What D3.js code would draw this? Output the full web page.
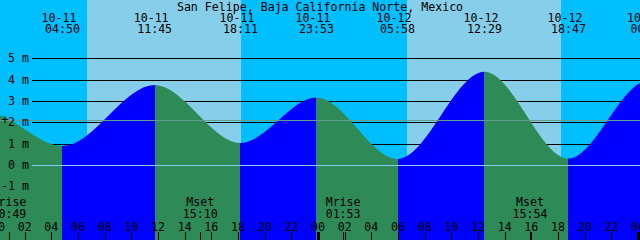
<!DOCTYPE html>
<html>
<head>
<meta charset="utf-8">
<script src="https://cdn.jsdelivr.net/npm/d3@7"></script>
<style>
body { margin: 0; background: #fff; }
text { font-family: "DejaVu Sans Mono", monospace; font-size: 11.6px; fill: #000; }
</style>
</head>
<body>
<script>
// tide extremes (first and last ones lie outside the window)
var tideDates = ["10-10", "10-10", "10-11", "10-11", "10-11", "10-11", "10-12", "10-12", "10-12", "10-13", "10-13"];
var tideTimes = ["16:50", "23:12", "04:50", "11:45", "18:11", "23:53", "05:58", "12:29", "18:47", "00:45", "07:10"];
var tideLevels = [0.9, 2.45, 0.89, 3.75, 1.03, 3.16, 0.28, 4.37, 0.3, 3.95, 0.2];

var sunDates = ["10-11", "10-12"];
var sunrise = ["06:41", "06:41"];
var sunset = ["18:14", "18:14"];

var moonNames = ["Mrise", "Mset", "Mrise", "Mset"];
var moonDates = ["10-11", "10-11", "10-12", "10-12"];
var moonTimes = ["00:49", "15:10", "01:53", "15:54"];

var levelTicks = [-1, 0, 1, 2, 3, 4, 5];
var hourTicks = d3.range(0, 49, 2);
var meanLevel = 2.11;
var title = "San Felipe, Baja California Norte, Mexico";

var width = 640;
var height = 240;

// hours since 10-11 00:00
function hrs(date, time) {
    var day = +date.split("-")[1] - 11;
    var p = time.split(":");
    return day * 24 + (+p[0]) + (+p[1]) / 60;
}

var x = d3.scaleLinear().domain([0, 48]).range([-2, 638]);
var y = d3.scaleLinear().domain([0, 5]).range([165, 58.3]);

function px(h) {
    return Math.round(x(h));
}

var tide = tideTimes.map(function(t, i) {
    return { h: hrs(tideDates[i], t), v: tideLevels[i], date: tideDates[i], time: t };
});

var svg = d3.select("body")
        .append("svg")
        .attr("width", width)
        .attr("height", height)
        .attr("shape-rendering", "crispEdges");

// night background, then day bands
svg.append("rect")
        .attr("width", width)
        .attr("height", height)
        .attr("fill", "#00bfff");

svg.selectAll(".day")
        .data(sunDates)
        .enter()
        .append("rect")
        .attr("x", function(d, i) { return px(hrs(d, sunrise[i])); })
        .attr("width", function(d, i) { return px(hrs(d, sunset[i])) - px(hrs(d, sunrise[i])); })
        .attr("y", 0)
        .attr("height", height)
        .attr("fill", "#87ceeb");

// level grid lines (behind the water)
svg.selectAll(".grid")
        .data(levelTicks.filter(function(d) { return d != 0; }))
        .enter()
        .append("line")
        .attr("x1", 32)
        .attr("x2", width)
        .attr("y1", function(d) { return Math.round(y(d)) + 0.5; })
        .attr("y2", function(d) { return Math.round(y(d)) + 0.5; })
        .attr("stroke", "#000")
        .attr("stroke-width", 1);

// water area, coloured by rising / falling
var area = d3.area()
        .x(function(d) { return x(d.h); })
        .y0(height)
        .y1(function(d) { return y(d.v); })
        .curve(d3.curveMonotoneX);

svg.append("clipPath")
        .attr("id", "water")
        .append("path")
        .attr("d", area(tide));

var segs = d3.pairs(tide);

svg.append("g")
        .attr("clip-path", "url(#water)")
        .selectAll("rect")
        .data(segs)
        .enter()
        .append("rect")
        .attr("x", function(d) { return px(d[0].h); })
        .attr("width", function(d) { return px(d[1].h) - px(d[0].h); })
        .attr("y", 0)
        .attr("height", height)
        .attr("fill", function(d) {
            return d[1].v > d[0].v ? "#0000ff" : "#2e8b57";
        });

// datum and mean level lines on top
svg.append("line")
        .attr("x1", 32)
        .attr("x2", width)
        .attr("y1", Math.round(y(0)) + 0.5)
        .attr("y2", Math.round(y(0)) + 0.5)
        .attr("stroke", "#87ceeb");

svg.append("line")
        .attr("x1", 0)
        .attr("x2", width)
        .attr("y1", Math.round(y(meanLevel)) + 0.5)
        .attr("y2", Math.round(y(meanLevel)) + 0.5)
        .attr("stroke", "#5f9f8f");

svg.append("text")
        .attr("x", 5)
        .attr("y", y(meanLevel) + 4)
        .attr("text-anchor", "middle")
        .text("+");

// level labels
svg.selectAll(".lvl")
        .data(levelTicks)
        .enter()
        .append("text")
        .attr("x", 29)
        .attr("y", function(d) { return y(d) + 4; })
        .attr("text-anchor", "end")
        .text(function(d) { return d + " m"; });

// title and tide labels
svg.append("text")
        .attr("x", 320)
        .attr("y", 10.5)
        .attr("text-anchor", "middle")
        .text(title);

var shown = tide.filter(function(d) { return d.h >= 0 && d.h <= 49; });

svg.selectAll(".tdate")
        .data(shown)
        .enter()
        .append("text")
        .attr("x", function(d) { return x(d.h) - 3.5; })
        .attr("y", 21.5)
        .attr("text-anchor", "middle")
        .text(function(d) { return d.date; });

svg.selectAll(".ttime")
        .data(shown)
        .enter()
        .append("text")
        .attr("x", function(d) { return x(d.h); })
        .attr("y", 33)
        .attr("text-anchor", "middle")
        .text(function(d) { return d.time; });

// moon labels
svg.selectAll(".mname")
        .data(moonNames)
        .enter()
        .append("text")
        .attr("x", function(d, i) { return x(hrs(moonDates[i], moonTimes[i])); })
        .attr("y", 206)
        .attr("text-anchor", "middle")
        .text(function(d) { return d; });

svg.selectAll(".mtime")
        .data(moonTimes)
        .enter()
        .append("text")
        .attr("x", function(d, i) { return x(hrs(moonDates[i], d)); })
        .attr("y", 217.5)
        .attr("text-anchor", "middle")
        .text(function(d) { return d; });

svg.selectAll(".mtick")
        .data(moonTimes)
        .enter()
        .append("line")
        .attr("x1", function(d, i) { return px(hrs(moonDates[i], d)) + 0.5; })
        .attr("x2", function(d, i) { return px(hrs(moonDates[i], d)) + 0.5; })
        .attr("y1", 232)
        .attr("y2", height)
        .attr("stroke", "#000");

// hour axis
svg.selectAll(".hlab")
        .data(hourTicks)
        .enter()
        .append("text")
        .attr("x", function(d) { return x(d); })
        .attr("y", 230.5)
        .attr("text-anchor", "middle")
        .text(function(d) { return d3.format("02")(d % 24); });

svg.selectAll(".htick")
        .data(hourTicks)
        .enter()
        .append("line")
        .attr("x1", function(d) { return px(d) + 0.5; })
        .attr("x2", function(d) { return px(d) + 0.5; })
        .attr("y1", 232)
        .attr("y2", height)
        .attr("stroke", "#000")
        .attr("stroke-width", function(d) { return d % 24 == 0 ? 3 : 1; });
</script>
</body>
</html>
